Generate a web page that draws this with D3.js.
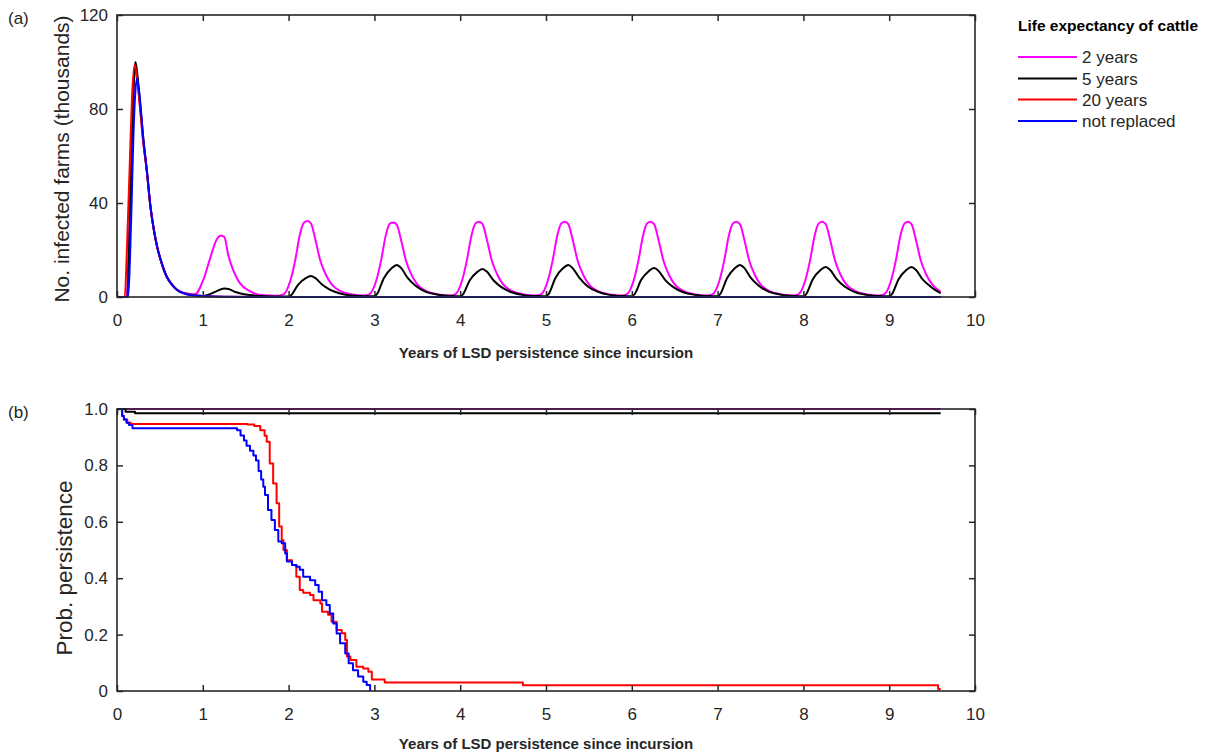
<!DOCTYPE html>
<html>
<head>
<meta charset="utf-8">
<script src="https://cdn.jsdelivr.net/npm/d3@7"></script>
<style>
  html, body { margin: 0; padding: 0; background: #fff; }
  svg { display: block; font-family: "Liberation Sans", Arial, sans-serif; }
</style>
</head>
<body>
<svg id="chart" width="1222" height="753"></svg>
<script>
// ---------------- DATA ----------------
const seriesNames = ["2 years", "5 years", "20 years", "not replaced"];
const seriesColors = ["#ff00ff", "#000000", "#ff0000", "#0000ff"];
const xTicks = [0, 1, 2, 3, 4, 5, 6, 7, 8, 9, 10];
const yTicksA = [0, 40, 80, 120];
const yTicksB = [0, 0.2, 0.4, 0.6, 0.8, 1.0];
const yTickLabelsB = ["0", "0.2", "0.4", "0.6", "0.8", "1.0"];

// Panel (a): number of infected farms (thousands) vs years
const magT = [0, 0.11, 0.14, 0.17, 0.19, 0.21, 0.23, 0.26, 0.30, 0.35, 0.39, 0.43, 0.47, 0.51, 0.58, 0.64, 0.70, 0.80, 0.91,
  1.006, 1.08, 1.16, 1.21, 1.25, 1.30, 1.36, 1.43, 1.55, 1.71, 1.86,
  1.94, 2.02, 2.08, 2.13, 2.18, 2.22, 2.26, 2.31, 2.37, 2.43, 2.50, 2.60, 2.74, 2.88,
  2.94, 3.02, 3.08, 3.13, 3.18, 3.22, 3.26, 3.31, 3.37, 3.43, 3.50, 3.60, 3.74, 3.88,
  3.94, 4.02, 4.08, 4.13, 4.18, 4.22, 4.26, 4.31, 4.37, 4.43, 4.50, 4.60, 4.74, 4.88,
  4.94, 5.02, 5.08, 5.13, 5.18, 5.22, 5.26, 5.31, 5.37, 5.43, 5.50, 5.60, 5.74, 5.88,
  5.94, 6.02, 6.08, 6.13, 6.18, 6.22, 6.26, 6.31, 6.37, 6.43, 6.50, 6.60, 6.74, 6.88,
  6.94, 7.02, 7.08, 7.13, 7.18, 7.22, 7.26, 7.31, 7.37, 7.43, 7.50, 7.60, 7.74, 7.88,
  7.94, 8.02, 8.08, 8.13, 8.18, 8.22, 8.26, 8.31, 8.37, 8.43, 8.50, 8.60, 8.74, 8.88,
  8.94, 9.02, 9.08, 9.13, 9.18, 9.22, 9.26, 9.31, 9.37, 9.43, 9.50, 9.60];
const magV = [0, 0, 25, 62, 85, 97, 95, 84, 68, 53, 38.5, 28.5, 21, 15.7, 8.6, 5.4, 3.2, 1.6, 1.2,
  7.3, 15.8, 24.4, 26.1, 25.6, 17.3, 10.9, 6.0, 2.4, 0.7, 0.5,
  1.1, 6.9, 16.2, 26.3, 31.7, 32.3, 31.3, 24.8, 15.4, 9.8, 5.5, 2.6, 1.1, 0.6,
  1.1, 6.8, 15.9, 25.8, 31.2, 31.7, 30.8, 24.4, 15.2, 9.6, 5.4, 2.6, 1.1, 0.6,
  1.1, 6.8, 16.0, 26.0, 31.4, 32.0, 31.0, 24.6, 15.3, 9.7, 5.4, 2.6, 1.1, 0.6,
  1.1, 6.8, 16.0, 26.0, 31.4, 32.0, 31.0, 24.6, 15.3, 9.7, 5.4, 2.6, 1.1, 0.6,
  1.1, 6.8, 16.0, 26.0, 31.4, 32.0, 31.0, 24.6, 15.3, 9.7, 5.4, 2.6, 1.1, 0.6,
  1.1, 6.8, 16.0, 26.0, 31.4, 32.0, 31.0, 24.6, 15.3, 9.7, 5.4, 2.6, 1.1, 0.6,
  1.1, 6.8, 16.0, 26.0, 31.4, 32.0, 31.0, 24.6, 15.3, 9.7, 5.4, 2.6, 1.1, 0.6,
  1.1, 6.8, 16.0, 26.0, 31.4, 32.0, 31.0, 24.6, 15.3, 9.7, 5.4, 2.2];

const blkT = [0, 0.12, 0.14, 0.16, 0.18, 0.20, 0.214, 0.23, 0.26, 0.30, 0.35, 0.39, 0.43, 0.47, 0.51, 0.58, 0.64, 0.70, 0.80, 0.90, 0.98,
  1.05, 1.15, 1.25, 1.30, 1.39, 1.48, 1.58, 1.74, 1.90,
  2.00, 2.03, 2.11, 2.20, 2.26, 2.31, 2.39, 2.48, 2.60, 2.74, 2.90,
  3.00, 3.03, 3.11, 3.20, 3.26, 3.31, 3.39, 3.48, 3.60, 3.74, 3.90,
  4.00, 4.03, 4.11, 4.20, 4.26, 4.31, 4.39, 4.48, 4.60, 4.74, 4.90,
  5.00, 5.03, 5.11, 5.20, 5.26, 5.31, 5.39, 5.48, 5.60, 5.74, 5.90,
  6.00, 6.03, 6.11, 6.20, 6.26, 6.31, 6.39, 6.48, 6.60, 6.74, 6.90,
  7.00, 7.03, 7.11, 7.20, 7.26, 7.31, 7.39, 7.48, 7.60, 7.74, 7.90,
  8.00, 8.03, 8.11, 8.20, 8.26, 8.31, 8.39, 8.48, 8.60, 8.74, 8.90,
  9.00, 9.03, 9.11, 9.20, 9.26, 9.31, 9.39, 9.48, 9.60];
const blkV = [0, 0, 20, 48, 75, 94, 100, 97, 86, 70, 53, 38.5, 28.5, 21, 15.7, 8.6, 5.4, 3.0, 1.4, 0.6, 0.4,
  0.8, 2.3, 3.6, 3.4, 2.0, 1.2, 0.7, 0.3, 0.2,
  0.2, 0.8, 5.2, 8.0, 8.9, 8.1, 5.3, 3.1, 1.5, 0.6, 0.3,
  0.3, 1.2, 8.0, 12.2, 13.6, 12.4, 8.0, 4.8, 2.2, 1.0, 0.4,
  0.3, 1.0, 7.0, 10.7, 11.9, 10.8, 7.0, 4.2, 2.0, 0.8, 0.4,
  0.3, 1.2, 8.1, 12.3, 13.6, 12.3, 8.1, 4.7, 2.3, 0.9, 0.4,
  0.3, 1.1, 7.3, 11.1, 12.3, 11.2, 7.2, 4.3, 2.0, 0.9, 0.4,
  0.3, 1.2, 8.0, 12.2, 13.6, 12.4, 8.0, 4.8, 2.2, 1.0, 0.4,
  0.3, 1.1, 7.6, 11.5, 12.8, 11.6, 7.5, 4.5, 2.1, 0.9, 0.4,
  0.3, 1.1, 7.6, 11.5, 12.8, 11.6, 7.5, 4.5, 1.6];

const redT = [0, 0.09, 0.12, 0.15, 0.175, 0.206, 0.23, 0.26, 0.30, 0.35, 0.39, 0.43, 0.47, 0.51, 0.58, 0.64, 0.70, 0.80, 0.92, 1.05, 1.3, 1.6, 9.6];
const redV = [0, 0, 25, 58, 85, 98.7, 94, 84, 68, 52.5, 38.3, 28.4, 21, 15.6, 8.5, 5.3, 3.0, 1.3, 0.6, 0.3, 0.1, 0, 0];

const bluT = [0, 0.13, 0.15, 0.171, 0.19, 0.21, 0.233, 0.268, 0.307, 0.35, 0.39, 0.43, 0.47, 0.51, 0.58, 0.64, 0.70, 0.80, 0.92, 1.05, 1.3, 1.6, 9.6];
const bluV = [0, 0, 15, 41, 67, 85, 93, 84, 67, 53, 38.4, 28.5, 21, 15.7, 8.6, 5.2, 3.0, 1.3, 0.6, 0.3, 0.1, 0, 0];

// Panel (b): probability of persistence (step curves)
const pMagT = [0, 9.6];
const pMagV = [1, 1];
const pBlkT = [0, 0.10, 0.21, 9.6];
const pBlkV = [1, 0.99, 0.985, 0.985];
const pRedT = [0, 0.06, 0.08, 0.12, 0.16, 1.52, 1.60, 1.67, 1.72, 1.745, 1.78, 1.82, 1.86, 1.89, 1.92, 1.94, 1.98, 2.04, 2.09, 2.13, 2.17, 2.25, 2.29, 2.37, 2.39, 2.46, 2.50, 2.56, 2.62, 2.66, 2.68, 2.72, 2.79, 2.87, 2.93, 2.97, 3.12, 4.73, 9.57, 9.6];
const pRedV = [1, 0.975, 0.963, 0.951, 0.947, 0.945, 0.94, 0.925, 0.905, 0.884, 0.807, 0.736, 0.666, 0.583, 0.535, 0.50, 0.464, 0.447, 0.405, 0.358, 0.348, 0.34, 0.322, 0.31, 0.281, 0.27, 0.246, 0.216, 0.205, 0.181, 0.122, 0.11, 0.086, 0.080, 0.068, 0.041, 0.03, 0.02, 0.007, 0.007];
const pBluT = [0, 0.06, 0.08, 0.11, 0.14, 0.18, 1.40, 1.44, 1.48, 1.51, 1.55, 1.59, 1.62, 1.65, 1.68, 1.705, 1.725, 1.76, 1.80, 1.84, 1.88, 1.92, 1.96, 1.98, 2.04, 2.09, 2.13, 2.17, 2.25, 2.31, 2.35, 2.39, 2.44, 2.48, 2.52, 2.56, 2.60, 2.66, 2.70, 2.75, 2.81, 2.87, 2.91, 2.95];
const pBluV = [1, 0.975, 0.963, 0.951, 0.943, 0.932, 0.925, 0.906, 0.888, 0.870, 0.852, 0.835, 0.817, 0.78, 0.75, 0.724, 0.695, 0.642, 0.606, 0.571, 0.53, 0.524, 0.488, 0.459, 0.447, 0.441, 0.43, 0.405, 0.393, 0.376, 0.352, 0.322, 0.305, 0.275, 0.239, 0.204, 0.169, 0.133, 0.098, 0.074, 0.051, 0.033, 0.021, 0];

// ---------------- DRAWING ----------------
const svg = d3.select("#chart");
const axisColor = "#262626";
const L = 117, R = 975;

function zip(t, v) { return t.map((d, i) => [d, v[i]]); }

function panel(cfg) {
  const { top, bottom, yDomain, yTicks, yLabels, yTitle, tag, lines, curve, yTitleX, yTitleY, yTitleSize, xTitleY } = cfg;
  const x = d3.scaleLinear().domain([0, 10]).range([L, R]);
  const y = d3.scaleLinear().domain(yDomain).range([bottom, top]);
  const g = svg.append("g");

  const line = d3.line().x(d => x(d[0])).y(d => y(d[1])).curve(curve);
  lines.forEach((ln, i) => {
    g.append("path").datum(zip(ln[0], ln[1]))
      .attr("d", line).attr("fill", "none")
      .attr("stroke", seriesColors[i]).attr("stroke-width", 2)
      .attr("stroke-linejoin", "round");
  });

  const styleAxis = sel => {
    sel.select(".domain").remove();
    sel.selectAll(".tick line").attr("stroke", axisColor).attr("stroke-width", 1.5);
    sel.selectAll(".tick text").attr("fill", axisColor).attr("font-size", 17)
      .attr("font-family", "'Liberation Sans', Arial, sans-serif");
  };

  g.append("g").attr("transform", `translate(0,${bottom})`)
    .call(d3.axisBottom(x).tickValues(xTicks).tickSize(-6).tickPadding(17).tickFormat(d3.format("d")))
    .call(styleAxis);
  g.append("g").attr("transform", `translate(0,${top})`)
    .call(d3.axisTop(x).tickValues(xTicks).tickSize(-6).tickFormat(""))
    .call(styleAxis);
  g.append("g").attr("transform", `translate(${L},0)`)
    .call(d3.axisLeft(y).tickValues(yTicks).tickSize(-6).tickPadding(9).tickFormat((d, i) => yLabels[i]))
    .call(styleAxis);
  g.append("g").attr("transform", `translate(${R},0)`)
    .call(d3.axisRight(y).tickValues(yTicks).tickSize(-6).tickFormat(""))
    .call(styleAxis);

  g.append("rect").attr("x", L).attr("y", top).attr("width", R - L).attr("height", bottom - top)
    .attr("fill", "none").attr("stroke", axisColor).attr("stroke-width", 1.6);

  g.append("text").attr("transform", `translate(${yTitleX},${yTitleY}) rotate(-90)`)
    .attr("text-anchor", "middle").attr("font-size", yTitleSize).attr("fill", axisColor).text(yTitle);

  g.append("text").attr("x", (L + R) / 2).attr("y", xTitleY)
    .attr("text-anchor", "middle").attr("font-size", 15).attr("font-weight", "bold")
    .attr("fill", axisColor).text("Years of LSD persistence since incursion");

  g.append("text").attr("x", 8).attr("y", top + 9).attr("font-size", 17)
    .attr("fill", axisColor).text(tag);
}

panel({ top: 15, bottom: 297, yDomain: [0, 120], yTicks: yTicksA, yLabels: yTicksA.map(String),
  yTitle: "No. infected farms (thousands)", tag: "(a)",
  lines: [[magT, magV], [blkT, blkV], [redT, redV], [bluT, bluV]], curve: d3.curveMonotoneX,
  yTitleX: 69, yTitleY: 159, yTitleSize: 21, xTitleY: 358 });

panel({ top: 409, bottom: 691, yDomain: [0, 1], yTicks: yTicksB, yLabels: yTickLabelsB,
  yTitle: "Prob. persistence", tag: "(b)",
  lines: [[pMagT, pMagV], [pBlkT, pBlkV], [pRedT, pRedV], [pBluT, pBluV]], curve: d3.curveStepAfter,
  yTitleX: 72, yTitleY: 568, yTitleSize: 22.5, xTitleY: 749 });

// Legend
const lg = svg.append("g");
lg.append("text").attr("x", 1018).attr("y", 31).attr("font-size", 15.5).attr("font-weight", "bold")
  .attr("fill", "#000").text("Life expectancy of cattle");
const legendRows = [57, 78.5, 99.5, 121];
seriesNames.forEach((name, i) => {
  lg.append("line").attr("x1", 1018).attr("x2", 1077).attr("y1", legendRows[i]).attr("y2", legendRows[i])
    .attr("stroke", seriesColors[i]).attr("stroke-width", 2);
  lg.append("text").attr("x", 1082).attr("y", legendRows[i] + 6).attr("font-size", 17)
    .attr("fill", axisColor).text(name);
});
</script>
</body>
</html>
